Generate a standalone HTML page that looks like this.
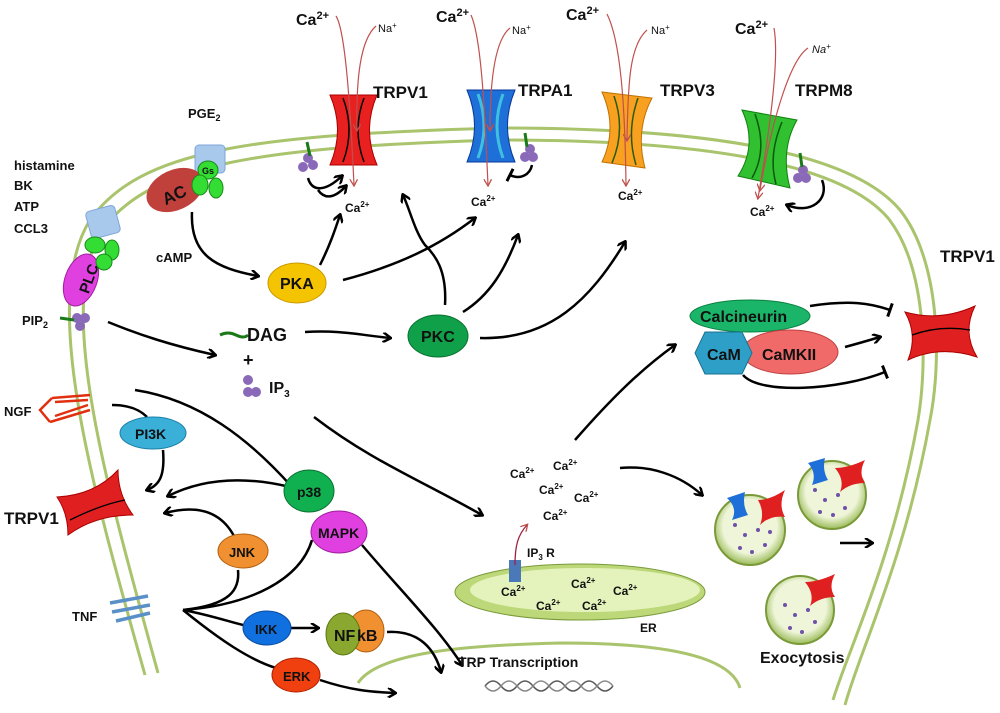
<!DOCTYPE html>
<html><head><meta charset="utf-8"><style>
html,body{margin:0;padding:0;background:#fff;}
svg{display:block;}
text{font-family:"Liberation Sans",sans-serif;font-weight:bold;fill:#111;}
</style></head><body>
<svg width="1000" height="713" viewBox="0 0 1000 713" xmlns="http://www.w3.org/2000/svg">
<defs>
<marker id="a" markerWidth="10" markerHeight="10" refX="8" refY="5" orient="auto" markerUnits="userSpaceOnUse"><path d="M1,0 L9,5 L1,10" fill="none" stroke="#000" stroke-width="2.5"/></marker>
<marker id="r" markerWidth="8" markerHeight="8" refX="6" refY="4" orient="auto" markerUnits="userSpaceOnUse"><path d="M0,0 L7,4 L0,8" fill="none" stroke="#c0504d" stroke-width="1.3"/></marker>
<marker id="b" markerWidth="4" markerHeight="14" refX="2" refY="7" orient="auto" markerUnits="userSpaceOnUse"><path d="M2,0 L2,14" stroke="#000" stroke-width="3"/></marker>
<radialGradient id="ves" cx="50%" cy="45%" r="55%"><stop offset="70%" stop-color="#eef5d8"/><stop offset="100%" stop-color="#9bbb59"/></radialGradient>
</defs>

<g fill="none" stroke="#a9c46c" stroke-width="3">
<path d="M145,675 C 90,480 40,300 90,220 C 140,150 250,135 500,128 C 700,128 850,150 900,210 C 940,260 942,360 930,420 C 905,560 860,650 845,705"/>
<path d="M158,673 C 105,480 55,305 102,230 C 150,165 255,147 500,140 C 700,140 840,162 888,218 C 926,266 928,360 918,420 C 893,560 848,650 833,700"/>
<path d="M358,683 C 380,650 480,645 560,643 C 660,643 730,655 740,688"/>
</g>

<path d="M330,95 L377,95 Q362,130 377,165 L330,165 Q345,130 330,95 Z" fill="#e82020" stroke="#a00" stroke-width="1"/>
<path d="M343,98 Q355,130 343,162 M364,98 Q352,130 364,162" fill="none" stroke="#000" stroke-width="1.5"/>
<path d="M467,90 L515,90 Q500,126 515,162 L467,162 Q482,126 467,90 Z" fill="#1f6fd8" stroke="#0a3a9a"/>
<path d="M478,94 Q490,126 478,158 M503,94 Q491,126 503,158" fill="none" stroke="#3fc0e0" stroke-width="3"/>
<path d="M602,92 L652,98 Q635,130 645,168 L602,162 Q618,128 602,92 Z" fill="#f8a020" stroke="#c07000"/>
<path d="M614,96 Q626,130 612,163 M638,98 Q626,132 636,165" fill="none" stroke="#2a5a10" stroke-width="1.5"/>
<path d="M742,110 L797,120 Q780,150 790,188 L738,176 Q758,145 742,110 Z" fill="#30c030" stroke="#108010"/>
<path d="M755,114 Q768,150 752,178 M782,122 Q768,155 776,184" fill="none" stroke="#0a5a0a" stroke-width="1.5"/>

<g fill="none" stroke="#c0504d" stroke-width="1.2" marker-end="url(#r)">
<path d="M336,16 C 345,30 350,100 354,185"/>
<path d="M471,15 C 482,40 485,120 488,185"/>
<path d="M607,14 C 620,40 625,100 626,185"/>
<path d="M774,28 C 778,50 775,100 758,198"/>
<path d="M376,26 C 360,40 356,80 357,130" marker-end=""/>
<path d="M510,28 C 495,40 490,80 490,130" marker-end=""/>
<path d="M647,30 C 630,45 628,80 627,140" marker-end=""/>
<path d="M808,48 C 790,60 772,120 760,190" marker-end=""/>
</g>

<g>
<circle cx="303" cy="167" r="5" fill="#8a6ab8"/><circle cx="313" cy="165" r="5" fill="#8a6ab8"/><circle cx="308" cy="158" r="5" fill="#8a6ab8"/><path d="M307,142 l3,14" stroke="#1a7a1a" stroke-width="3"/>
<circle cx="525" cy="157" r="5" fill="#8a6ab8"/><circle cx="533" cy="157" r="5" fill="#8a6ab8"/><circle cx="530" cy="149" r="5" fill="#8a6ab8"/><path d="M525,133 l2,14" stroke="#1a7a1a" stroke-width="3"/>
<circle cx="798" cy="178" r="5" fill="#8a6ab8"/><circle cx="806" cy="178" r="5" fill="#8a6ab8"/><circle cx="803" cy="170" r="5" fill="#8a6ab8"/><path d="M800,153 l2,14" stroke="#1a7a1a" stroke-width="3"/>
<circle cx="77" cy="318" r="5" fill="#8a6ab8"/><circle cx="85" cy="318" r="5" fill="#8a6ab8"/><circle cx="80" cy="326" r="5" fill="#8a6ab8"/><path d="M60,318 l14,2" stroke="#1a7a1a" stroke-width="3"/>
<circle cx="248" cy="380" r="5" fill="#8a6ab8"/><circle cx="256" cy="392" r="5" fill="#8a6ab8"/><circle cx="248" cy="392" r="5" fill="#8a6ab8"/>
<path d="M220,335 q8,-4 16,0 q8,4 12,0" fill="none" stroke="#1a7a1a" stroke-width="3"/>
</g>

<rect x="195" y="145" width="30" height="28" rx="4" fill="#a8c8ec" stroke="#7ea6d8"/>
<rect x="88" y="208" width="30" height="28" rx="4" fill="#a8c8ec" stroke="#7ea6d8" transform="rotate(-15 103 222)"/>
<ellipse cx="175" cy="190" rx="30" ry="20" fill="#c0403c" transform="rotate(-25 175 190)"/>
<text x="160" y="200" font-size="17" transform="rotate(-25 175 190)">AC</text>
<ellipse cx="208" cy="170" rx="10" ry="9" fill="#33dd33" stroke="#1a8a1a"/><ellipse cx="200" cy="185" rx="8" ry="10" fill="#33dd33" stroke="#1a8a1a"/><ellipse cx="216" cy="188" rx="7" ry="10" fill="#33dd33" stroke="#1a8a1a"/>
<text x="202" y="174" font-size="9">Gs</text>
<ellipse cx="81" cy="280" rx="16" ry="27" fill="#e040e0" stroke="#a020a0" transform="rotate(20 81 280)"/>
<text x="70" y="292" font-size="15" transform="rotate(-70 81 280)">PLC</text>
<ellipse cx="95" cy="245" rx="10" ry="8" fill="#33dd33" stroke="#1a8a1a"/><ellipse cx="112" cy="250" rx="7" ry="10" fill="#33dd33" stroke="#1a8a1a"/><ellipse cx="104" cy="262" rx="8" ry="8" fill="#33dd33" stroke="#1a8a1a"/>

<ellipse cx="297" cy="283" rx="29" ry="20" fill="#f5c400" stroke="#c89a00"/>
<text x="280" y="289" font-size="16">PKA</text>
<ellipse cx="438" cy="336" rx="30" ry="21" fill="#10a04a" stroke="#0a7030"/>
<text x="421" y="342" font-size="16">PKC</text>

<g fill="none" stroke="#000" stroke-width="2.5" marker-end="url(#a)">
<path d="M192,212 C 190,255 215,268 258,276"/>
<path d="M320,265 C 330,245 335,230 340,215"/>
<path d="M343,280 C 400,265 440,245 475,218"/>
<path d="M445,305 C 447,270 435,255 425,245 C 415,232 410,210 403,195"/>
<path d="M463,312 C 490,295 505,270 518,235"/>
<path d="M480,338 C 550,340 590,300 625,242"/>
<path d="M108,322 C 140,335 170,345 215,355"/>
<path d="M305,332 C 340,330 360,335 390,338"/>
<path d="M314,417 C 370,460 420,480 482,515"/>
<path d="M575,440 C 610,400 640,370 675,345"/>
<path d="M620,468 C 650,465 680,475 702,495"/>
<path d="M845,347 C 860,343 870,340 880,337"/>
<path d="M163,450 C 165,475 160,485 147,490"/>
<path d="M290,487 C 240,475 200,480 168,496"/>
<path d="M234,536 C 220,510 195,505 165,513"/>
<path d="M291,628 L 318,628"/>
<path d="M387,632 C 420,630 435,650 441,672"/>
<path d="M362,545 C 400,590 440,630 462,665"/>
<path d="M320,680 C 350,690 370,692 395,693"/>
<path d="M840,543 L 872,543"/>
<path d="M308,178 C 312,192 325,192 342,176"/>
<path d="M318,190 C 325,200 335,198 346,186"/>
</g>
<g fill="none" stroke="#000" stroke-width="2.5">
<path d="M810,306 C 850,300 870,303 890,310" marker-end="url(#b)"/>
<path d="M743,375 C 760,395 840,390 885,372" marker-end="url(#b)"/>
<path d="M532,165 C 530,175 520,180 510,175" marker-end="url(#b)"/>
<path d="M822,180 C 830,200 810,215 787,205" marker-end="url(#a)"/>
<path d="M112,405 C 130,405 140,410 147,417"/>
<path d="M135,390 C 200,400 250,440 292,487"/>
<path d="M183,610 C 230,605 240,590 238,570"/>
<path d="M183,610 C 250,605 300,580 312,540"/>
<path d="M183,610 C 210,615 230,622 243,625"/>
<path d="M183,610 C 220,640 250,660 276,668"/>
</g>

<path d="M905,312 Q940,322 975,306 Q962,332 977,357 Q940,345 908,360 Q918,335 905,312 Z" fill="#e02020" stroke="#a00"/>
<path d="M912,335 Q940,325 970,330" fill="none" stroke="#000" stroke-width="1.3"/>
<path d="M57,497 Q95,495 118,470 Q118,495 133,515 Q95,515 68,535 Q68,513 57,497 Z" fill="#e02020" stroke="#a00"/>
<path d="M70,520 Q100,505 125,500" fill="none" stroke="#000" stroke-width="1.3"/>

<ellipse cx="750" cy="316" rx="60" ry="16" fill="#1bb56a" stroke="#0a8040"/>
<text x="700" y="322" font-size="16">Calcineurin</text>
<ellipse cx="790" cy="352" rx="48" ry="22" fill="#f06a6a" stroke="#c04040"/>
<path d="M705,332 L742,332 L752,353 L742,374 L705,374 L695,353 Z" fill="#2ea0c8" stroke="#1a7090"/>
<text x="707" y="360" font-size="16">CaM</text>
<text x="762" y="360" font-size="16">CaMKII</text>

<path d="M52,398 L40,410 L50,422 M52,398 L90,395 M50,422 L90,410 M55,402 L88,400 M55,416 L88,405" fill="none" stroke="#e03010" stroke-width="2.5"/>
<ellipse cx="153" cy="433" rx="33" ry="16" fill="#3ab0d8" stroke="#1a80a8"/>
<text x="135" y="439" font-size="14">PI3K</text>
<ellipse cx="339" cy="532" rx="28" ry="21" fill="#e040e0" stroke="#a020a0"/>
<ellipse cx="309" cy="491" rx="25" ry="21" fill="#10b050" stroke="#0a7030"/>
<text x="297" y="497" font-size="14">p38</text>
<text x="318" y="538" font-size="14">MAPK</text>
<ellipse cx="243" cy="551" rx="25" ry="17" fill="#f09030" stroke="#b06010"/>
<text x="229" y="557" font-size="13">JNK</text>
<path d="M110,603 L148,596 M112,612 L150,605 M116,621 L150,613" stroke="#5a90c8" stroke-width="3.5" fill="none"/>
<ellipse cx="267" cy="628" rx="24" ry="17" fill="#1070e0" stroke="#0a4aa0"/>
<text x="255" y="634" font-size="13">IKK</text>
<ellipse cx="366" cy="631" rx="18" ry="21" fill="#f09030" stroke="#b06010"/>
<ellipse cx="343" cy="634" rx="17" ry="21" fill="#8aa830" stroke="#5a7a10"/>
<text x="334" y="641" font-size="16">NF</text><text x="357" y="641" font-size="16">kB</text>
<ellipse cx="296" cy="675" rx="24" ry="17" fill="#f04010" stroke="#b02000"/>
<text x="283" y="681" font-size="13">ERK</text>

<ellipse cx="580" cy="592" rx="125" ry="28" fill="#bcd878" stroke="#7a9a3a"/>
<ellipse cx="585" cy="590" rx="115" ry="22" fill="#e4f2bc"/>
<rect x="509" y="560" width="12" height="22" fill="#4a78b8"/>
<path d="M515,565 C 515,545 518,535 527,525" fill="none" stroke="#a02040" stroke-width="1.3" marker-end="url(#r)"/>

<g>
<circle cx="750" cy="530" r="35" fill="url(#ves)" stroke="#7a9a3a" stroke-width="2"/>
<circle cx="832" cy="495" r="34" fill="url(#ves)" stroke="#7a9a3a" stroke-width="2"/>
<circle cx="800" cy="610" r="34" fill="url(#ves)" stroke="#7a9a3a" stroke-width="2"/>
<path d="M727,498 L745,492 Q742,505 748,515 L732,520 Q738,508 727,498Z" fill="#1f6fd8"/>
<path d="M758,500 Q770,500 785,490 Q778,505 785,517 Q770,515 760,525 Q765,512 758,500Z" fill="#e02020"/>
<path d="M808,463 L825,458 Q822,470 828,480 L812,485 Q817,473 808,463Z" fill="#1f6fd8"/>
<path d="M835,468 Q848,468 865,460 Q858,473 865,483 Q850,483 840,492 Q845,480 835,468Z" fill="#e02020"/>
<path d="M805,582 Q818,582 835,574 Q828,587 835,597 Q820,597 810,606 Q815,594 805,582Z" fill="#e02020"/>
<g fill="#7050a8">
<circle cx="735" cy="525" r="2"/><circle cx="745" cy="535" r="2"/><circle cx="758" cy="530" r="2"/><circle cx="765" cy="545" r="2"/><circle cx="740" cy="548" r="2"/><circle cx="752" cy="552" r="2"/><circle cx="770" cy="532" r="2"/>
<circle cx="815" cy="490" r="2"/><circle cx="825" cy="500" r="2"/><circle cx="838" cy="495" r="2"/><circle cx="845" cy="508" r="2"/><circle cx="820" cy="512" r="2"/><circle cx="833" cy="515" r="2"/>
<circle cx="785" cy="605" r="2"/><circle cx="795" cy="615" r="2"/><circle cx="808" cy="610" r="2"/><circle cx="815" cy="622" r="2"/><circle cx="790" cy="628" r="2"/><circle cx="802" cy="632" r="2"/>
</g>
</g>

<path d="M485,686 q8,-10 16,0 t16,0 t16,0 t16,0 t16,0 t16,0 t16,0 t16,0" fill="none" stroke="#555" stroke-width="1.5"/>
<path d="M485,686 q8,10 16,0 t16,0 t16,0 t16,0 t16,0 t16,0 t16,0 t16,0" fill="none" stroke="#888" stroke-width="1.5"/>

<g font-size="16">
<text x="296" y="25">Ca<tspan font-size="11" dy="-6">2+</tspan></text>
<text x="436" y="22">Ca<tspan font-size="11" dy="-6">2+</tspan></text>
<text x="566" y="20">Ca<tspan font-size="11" dy="-6">2+</tspan></text>
<text x="735" y="34">Ca<tspan font-size="11" dy="-6">2+</tspan></text>
</g>
<g font-size="11">
<text x="378" y="32" style="font-weight:normal">Na<tspan font-size="8" dy="-4">+</tspan></text>
<text x="512" y="34" style="font-weight:normal">Na<tspan font-size="8" dy="-4">+</tspan></text>
<text x="651" y="34" style="font-weight:normal">Na<tspan font-size="8" dy="-4">+</tspan></text>
<text x="812" y="53" style="font-weight:normal;font-style:italic">Na<tspan font-size="8" dy="-4">+</tspan></text>
</g>
<g font-size="17">
<text x="373" y="98">TRPV1</text>
<text x="518" y="96">TRPA1</text>
<text x="660" y="96">TRPV3</text>
<text x="795" y="96">TRPM8</text>
<text x="940" y="262">TRPV1</text>
<text x="4" y="524">TRPV1</text>
</g>
<g font-size="12">
<text x="345" y="212">Ca<tspan font-size="8" dy="-5">2+</tspan></text>
<text x="471" y="206">Ca<tspan font-size="8" dy="-5">2+</tspan></text>
<text x="618" y="200">Ca<tspan font-size="8" dy="-5">2+</tspan></text>
<text x="750" y="216">Ca<tspan font-size="8" dy="-5">2+</tspan></text>
<text x="510" y="478">Ca<tspan font-size="8" dy="-5">2+</tspan></text>
<text x="553" y="470">Ca<tspan font-size="8" dy="-5">2+</tspan></text>
<text x="539" y="494">Ca<tspan font-size="8" dy="-5">2+</tspan></text>
<text x="574" y="502">Ca<tspan font-size="8" dy="-5">2+</tspan></text>
<text x="543" y="520">Ca<tspan font-size="8" dy="-5">2+</tspan></text>
<text x="501" y="596">Ca<tspan font-size="8" dy="-5">2+</tspan></text>
<text x="571" y="588">Ca<tspan font-size="8" dy="-5">2+</tspan></text>
<text x="536" y="610">Ca<tspan font-size="8" dy="-5">2+</tspan></text>
<text x="582" y="610">Ca<tspan font-size="8" dy="-5">2+</tspan></text>
<text x="613" y="595">Ca<tspan font-size="8" dy="-5">2+</tspan></text>
<text x="527" y="557">IP<tspan font-size="8" dy="3">3</tspan><tspan dy="-3"> R</tspan></text>
<text x="640" y="632">ER</text>
</g>
<g font-size="13">
<text x="188" y="118">PGE<tspan font-size="9" dy="3">2</tspan></text>
<text x="14" y="170">histamine</text>
<text x="14" y="190">BK</text>
<text x="14" y="211">ATP</text>
<text x="14" y="233">CCL3</text>
<text x="156" y="262">cAMP</text>
<text x="22" y="325">PIP<tspan font-size="9" dy="3">2</tspan></text>
<text x="4" y="416">NGF</text>
<text x="72" y="621">TNF</text>
</g>
<text x="247" y="341" font-size="18">DAG</text>
<text x="243" y="366" font-size="18">+</text>
<text x="269" y="393" font-size="16">IP<tspan font-size="10" dy="4">3</tspan></text>
<text x="458" y="667" font-size="14">TRP Transcription</text>
<text x="760" y="663" font-size="16">Exocytosis</text>
</svg>
</body></html>
